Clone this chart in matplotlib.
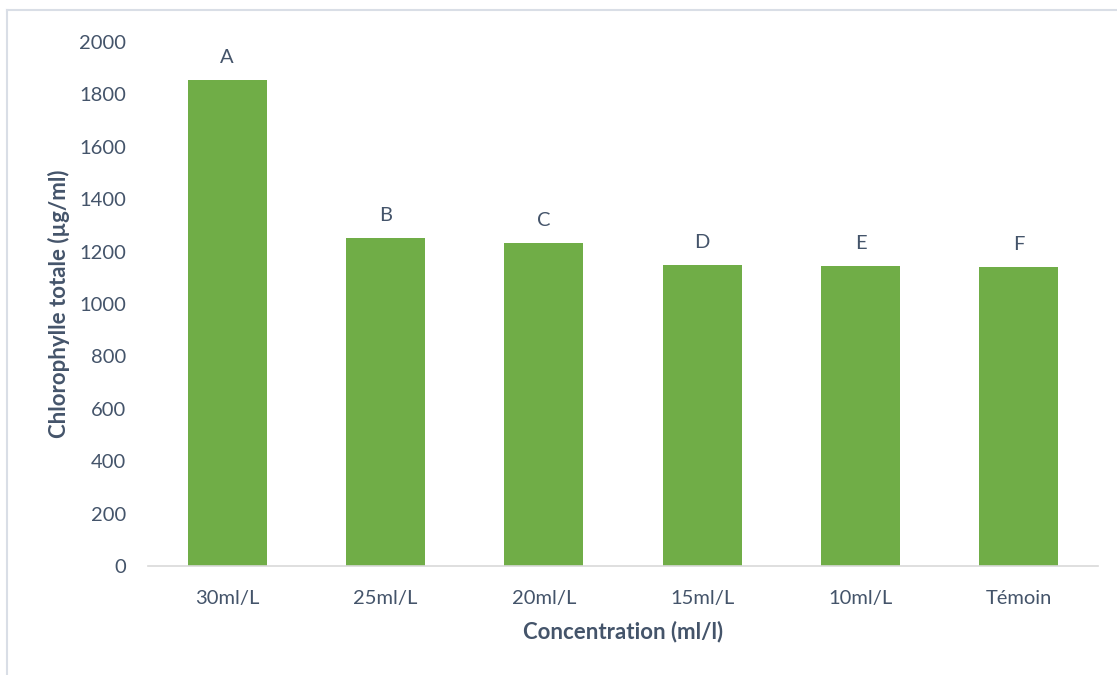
import matplotlib
matplotlib.use("Agg")
import matplotlib.pyplot as plt
from matplotlib.lines import Line2D

categories = ["30ml/L", "25ml/L", "20ml/L", "15ml/L", "10ml/L", "Témoin"]
values = [1855, 1252, 1233, 1149, 1145, 1142]
letters = ["A", "B", "C", "D", "E", "F"]
yticks = [0, 200, 400, 600, 800, 1000, 1200, 1400, 1600, 1800, 2000]

plt.rcParams['font.family'] = ['Lato', 'DejaVu Sans']
txt = '#44546A'
W, H = 1117, 675
fig = plt.figure(figsize=(W/100, H/100), dpi=100)
ax = fig.add_axes([148/W, 1-566/H, (1098-148)/W, (566-42)/H])

x = list(range(len(categories)))
bars = ax.bar(x, values, width=0.5, color='#70AD47', zorder=2)
for xi, v, l in zip(x, values, letters):
    ax.annotate(l, (xi, v), xytext=(0, 10), textcoords='offset points',
                ha='center', va='bottom', fontsize=14.5, color=txt)

ax.set_xlim(-0.5, len(categories)-0.5)
ax.set_ylim(0, 2000)
ax.set_yticks(yticks)
ax.set_yticklabels([str(t) for t in yticks])
ax.set_xticks(x)
ax.set_xticklabels(categories)
ax.tick_params(axis='both', length=0, labelsize=14.5, colors=txt)
ax.tick_params(axis='y', pad=16)
ax.tick_params(axis='x', pad=17)
for s in ['top', 'right', 'left']:
    ax.spines[s].set_visible(False)
ax.spines['bottom'].set_color('#D9D9D9')
ax.spines['bottom'].set_linewidth(1.2)

ax.set_xlabel("Concentration (ml/l)", fontsize=16, fontweight='bold', color=txt, labelpad=10)
ax.set_ylabel("Chlorophylle totale (µg/ml)", fontsize=16, fontweight='bold', color=txt, labelpad=6)

# chart frame
fig.add_artist(Line2D([7/W, 1], [1-10/H, 1-10/H], color='#D9DEE6', lw=1.5, transform=fig.transFigure))
fig.add_artist(Line2D([7/W, 7/W], [0, 1-10/H], color='#D9DEE6', lw=1.5, transform=fig.transFigure))

fig.savefig("out.png", dpi=100)
